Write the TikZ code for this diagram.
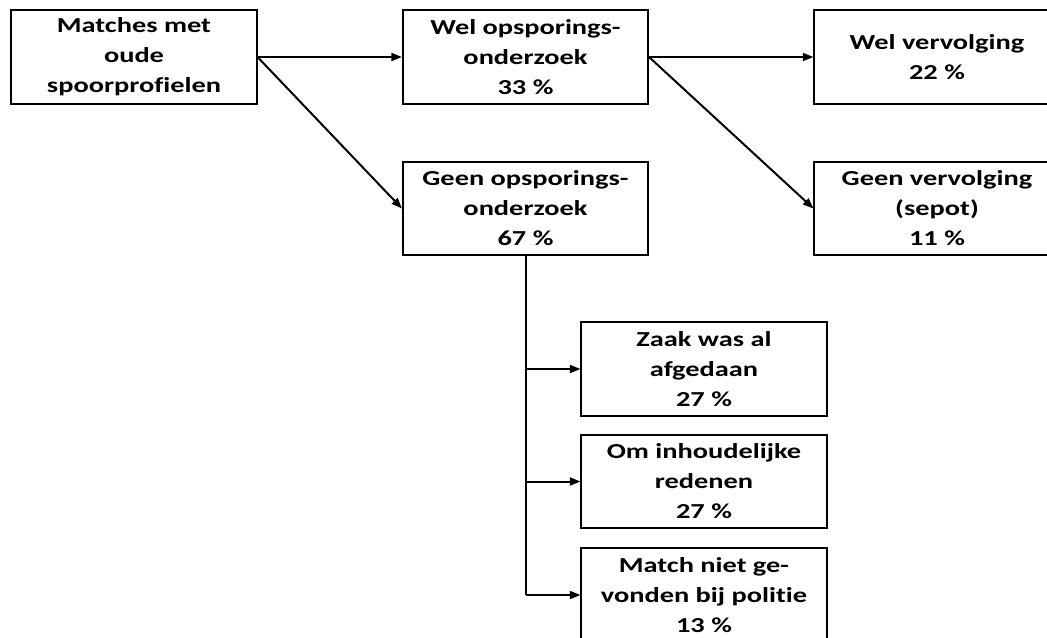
\documentclass[tikz,border=0pt]{standalone}
\usepackage{fontspec}
\setmainfont{Carlito}
\newfontfamily\boxfont[FakeStretch=1.33, Ligatures=NoCommon]{Carlito}
\usetikzlibrary{arrows.meta,positioning}

\begin{document}
\begin{tikzpicture}[x=0.75pt, y=-0.75pt,
		flowbox/.style={draw, line width=1.3pt, align=center, inner sep=0pt,
			minimum width=184pt, minimum height=70pt,
			font=\boxfont\fontsize{16}{22.5}\selectfont\bfseries},
		arr/.style={line width=1.5pt, -{Triangle[length=8pt, width=6pt]}},
		trunk/.style={line width=1.5pt}]
		\useasboundingbox (0,0) rectangle (1047,637);
		\node[flowbox] (M)  at (134,57)    {Matches met\\oude\\spoorprofielen};
		\node[flowbox] (WO) at (525.5,57)  {Wel opsporings-\\onderzoek\\33 \%};
		\node[flowbox] (GO) at (525.5,208.5) {Geen opsporings-\\onderzoek\\67 \%};
		\node[flowbox] (WV) at (937,57)    {Wel vervolging\\22 \%};
		\node[flowbox] (GV) at (937,208.5) {Geen vervolging\\(sepot)\\11 \%};
		\node[flowbox] (ZA) at (704,369)   {Zaak was al\\afgedaan\\27 \%};
		\node[flowbox] (OI) at (704,481.5) {Om inhoudelijke\\redenen\\27 \%};
		\node[flowbox] (MN) at (704,595)   {Match niet ge-\\vonden bij politie\\13 \%};
		\draw[arr] (M.east) -- (WO.west);
		\draw[arr] (M.east) -- (GO.west);
		\draw[arr] (WO.east) -- (WV.west);
		\draw[arr] (WO.east) -- (GV.west);
		\draw[trunk] (GO.south) -- (GO.south |- MN.west);
		\foreach \n in {ZA, OI, MN}
			\draw[arr] (GO.south |- \n.west) -- (\n.west);
	\end{tikzpicture}
\end{document}
